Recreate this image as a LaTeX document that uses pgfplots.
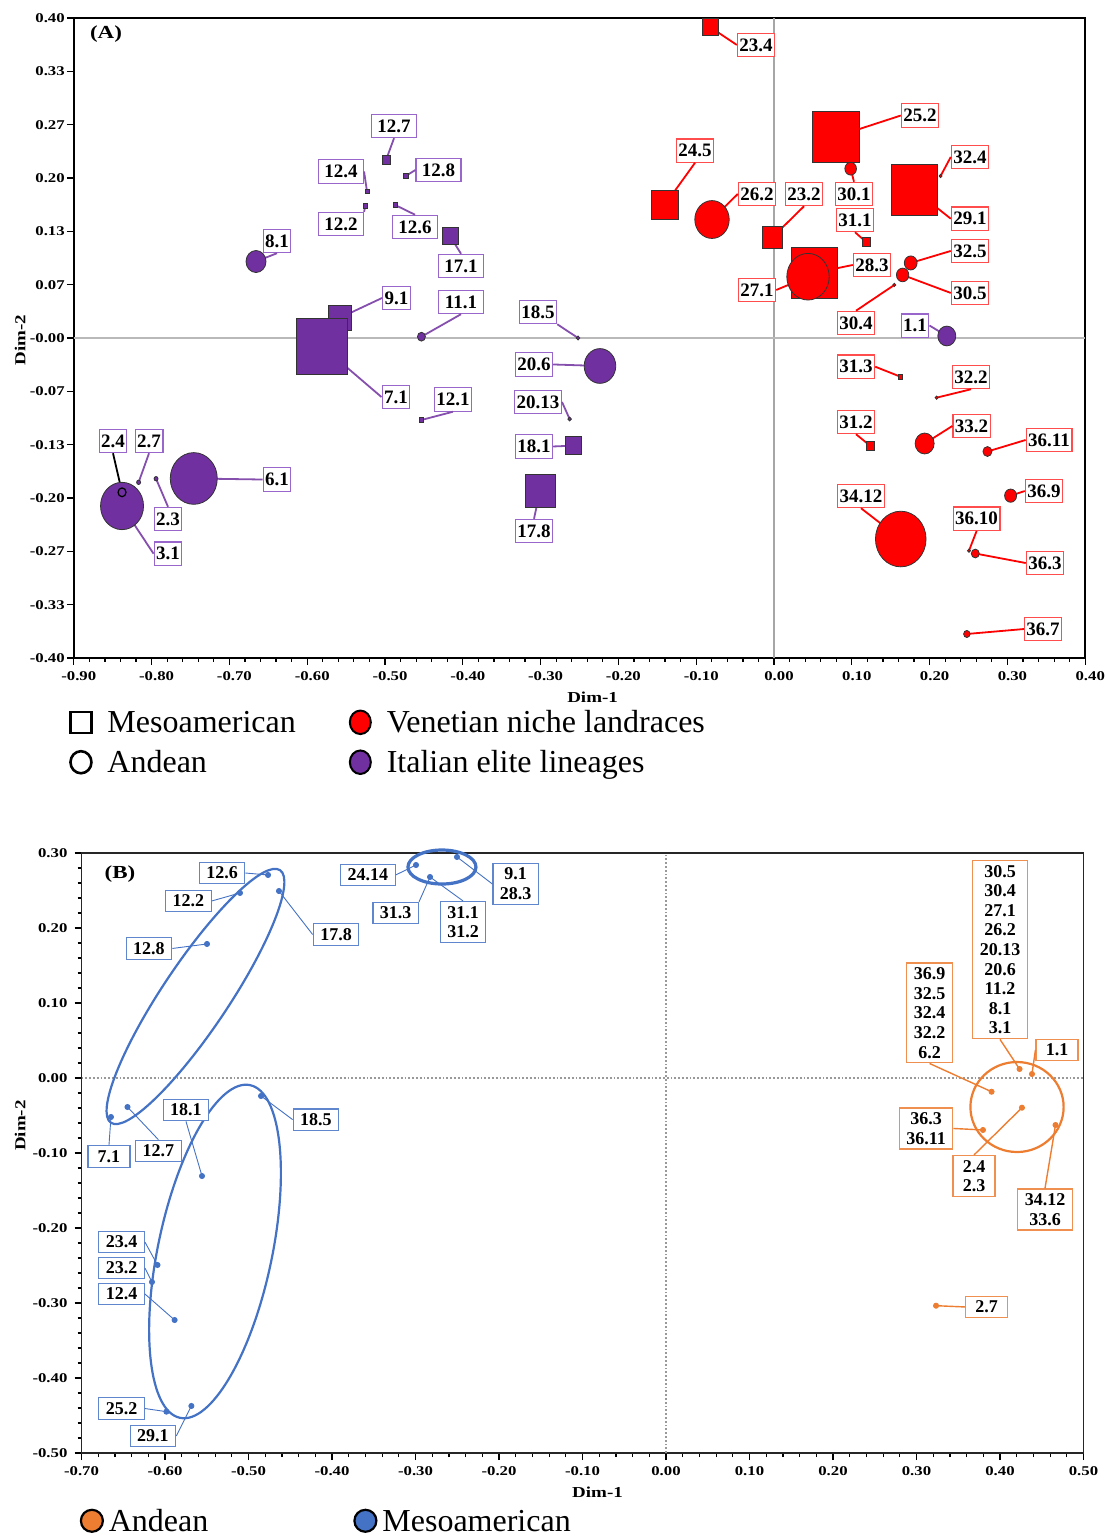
\documentclass[border=0pt]{standalone}
\usepackage{pgfplots}
\usepackage{pgfplotstable}
\pgfplotsset{compat=1.18}
\usepackage{fontspec}
\setmainfont{Liberation Serif}
\newfontfamily\stretchfamily{Liberation Serif}[FakeStretch=1.25]
\newcommand\tickfont{\stretchfamily\bfseries\fontsize{6.7}{8}\selectfont}
\newcommand\axfont{\stretchfamily\bfseries\fontsize{7.6}{9}\selectfont}
\newcommand\panfont{\stretchfamily\bfseries\fontsize{9.2}{11}\selectfont}

\definecolor{vred}{HTML}{FF0000}
\definecolor{ipurple}{HTML}{7030A0}
\definecolor{rbox}{HTML}{FF4D4D}
\definecolor{pbox}{HTML}{9966CC}
\definecolor{bblue}{HTML}{4472C4}
\definecolor{bor}{HTML}{ED7D31}

\tikzset{
 labA/.style={draw=#1, fill=white, line width=0.6pt, inner xsep=1pt, inner ysep=2.6pt, font=\fontsize{9.5}{11}\selectfont\bfseries, text=black},
 rl/.style={labA=rbox},
 pl/.style={labA=pbox},
 plw/.style={labA=pbox, minimum width=22.5pt},
 rline/.style={draw=vred, line width=0.9pt},
 pline/.style={draw=ipurple!85, line width=0.9pt},
 kline/.style={draw=black, line width=0.9pt},
 labB/.style={draw=#1, fill=white, line width=0.6pt, inner xsep=3.5pt, inner ysep=2.3pt, minimum width=21pt, align=center, font=\fontsize{9}{9.8}\selectfont\bfseries, text=black},
 bl/.style={labB=bblue!85},
 ol/.style={labB=bor!85},
 bline/.style={draw=bblue, line width=0.45pt},
 oline/.style={draw=bor, line width=0.7pt},
}
\pgfplotsset{
 bub/.style 2 args={scatter, only marks, forget plot, mark=#1,
   scatter/use mapped color={draw=black!80,fill=#2},
   visualization depends on={\thisrow{s} \as \msz},
   scatter/@pre marker code/.append style={/tikz/mark size=\msz pt},
   mark options={yscale=1.1, line width=0.4pt}},
}
\newcommand\LB[8]{\node[#1] (L) at (axis cs:#2,#3) {#4}; \draw[#5] (L.#6) -- (axis cs:#7,#8);}

\pgfplotstableread{
x y s
-0.0823 0.3888 4.0
-0.1401 0.1669 6.6
-0.0026 0.1253 5.0
0.0790 0.2515 11.75
0.1183 0.1200 2.0
0.1805 0.1850 11.6
0.0514 0.0813 11.5
0.1625 -0.0484 1.0
0.1239 -0.1350 2.0
}\redsq
\pgfplotstableread{
x y s
-0.0797 0.1481 8.6
0.0985 0.2116 2.9
0.2141 0.2025 0.75
0.0437 0.0766 10.6
0.1757 0.0938 3.2
0.1653 0.0788 3.1
0.1546 0.0663 0.75
0.2090 -0.0746 0.75
0.1936 -0.1319 4.75
0.2743 -0.1419 2.25
0.3041 -0.1971 3.0
0.1629 -0.2513 12.65
0.2506 -0.2659 0.75
0.2587 -0.2694 2.0
0.2478 -0.3700 1.6
}\redci
\pgfplotstableread{
x y s
-0.4987 0.2225 2.0
-0.4734 0.2025 1.25
-0.5231 0.1829 1.0
-0.5252 0.1650 1.0
-0.4871 0.1663 1.0
-0.4165 0.1275 4.0
-0.5585 0.0250 5.75
-0.5812 -0.0100 12.75
-0.4532 -0.1025 1.0
-0.2584 -0.1346 4.0
-0.3008 -0.1913 7.5
}\pusq
\pgfplotstableread{
x y s
-0.6658 0.0956 5.0
-0.4532 0.0016 2.0
-0.2519 0.0000 0.9
-0.2237 -0.0350 7.9
-0.2627 -0.1013 0.9
0.2221 0.0025 4.5
-0.7458 -0.1756 11.75
-0.8380 -0.2100 10.75
-0.8167 -0.1804 1.0
-0.7943 -0.1759 1.0
}\puci
\pgfplotstableread{
x y
-0.4766 0.2707
-0.5102 0.2467
-0.4635 0.2493
-0.5497 0.1787
-0.2994 0.2840
-0.2503 0.2947
-0.2826 0.2680
-0.4850 -0.0240
-0.6647 -0.0520
-0.6449 -0.0387
-0.5557 -0.1307
-0.6090 -0.2493
-0.6156 -0.2720
-0.5885 -0.3227
-0.5983 -0.4449
-0.5684 -0.4373
}\bpts
\pgfplotstableread{
x y
0.4234 0.0120
0.4383 0.0053
0.3899 -0.0183
0.4263 -0.0396
0.3796 -0.0693
0.4665 -0.0627
0.3234 -0.3036
}\opts

\begin{document}
\begin{tikzpicture}
% ---------------- Panel A ----------------
\begin{axis}[
 at={(36.9pt,439.5pt)}, anchor=south west, scale only axis,
 width=505.7pt, height=320pt,
 xmin=-0.9, xmax=0.4, ymin=-0.4, ymax=0.4,
 clip=false,
 axis line style={line width=0.8pt},
 tick align=outside, tick pos=left,
 major tick length=3.5pt, minor tick length=2pt,
 every tick/.style={black, line width=0.6pt},
 minor x tick num=4, minor y tick num=4,
 xtick={-0.9,-0.8,-0.7,-0.6,-0.5,-0.4,-0.3,-0.2,-0.1,0,0.1,0.2,0.3,0.4},
 xticklabels={-0.90,-0.80,-0.70,-0.60,-0.50,-0.40,-0.30,-0.20,-0.10,0.00,0.10,0.20,0.30,0.40},
 ytick={-0.4,-0.33333,-0.26667,-0.2,-0.13333,-0.06667,0,0.06667,0.13333,0.2,0.26667,0.33333,0.4},
 yticklabels={-0.40,-0.33,-0.27,-0.20,-0.13,-0.07,-0.00,0.07,0.13,0.20,0.27,0.33,0.40},
 tick label style={font=\tickfont},
 xticklabel style={xshift=2.5pt},
 yticklabel style={xshift=2.5pt},
 legend columns=2, legend cell align=left,
 legend image code/.code={\draw[#1] plot coordinates {(0pt,0pt)};},
 legend style={draw=none, fill=none, inner sep=0pt,
   at={(axis description cs:-0.0037,-0.0815)}, anchor=north west,
   font=\fontsize{16}{19}\selectfont, row sep=8.2pt,
   nodes={inner xsep=3pt, inner ysep=0pt, text height=10.6pt, text depth=0pt},
   /tikz/every odd column/.append style={column sep=5pt},
   /tikz/every even column/.append style={column sep=24pt}},
]
\draw[gray!70, line width=0.6pt] (axis cs:0,-0.4) -- (axis cs:0,0.4);
\draw[gray!55, line width=0.8pt] (axis cs:-0.9,0) -- (axis cs:0.4,0);
% red labels
\LB{rl}{-0.0231}{0.3663}{23.4}{rline}{west}{-0.0823}{0.3888}
\LB{rl}{0.1877}{0.2781}{25.2}{rline}{west}{0.0790}{0.2515}
\LB{rl}{-0.1015}{0.2343}{24.5}{rline}{south}{-0.1401}{0.1669}
\LB{rl}{0.2519}{0.2263}{32.4}{rline}{west}{0.2141}{0.2025}
\LB{rl}{-0.0219}{0.18}{26.2}{rline}{west}{-0.0797}{0.1481}
\LB{rl}{0.0386}{0.18}{23.2}{rline}{south}{-0.0026}{0.1253}
\LB{rl}{0.1028}{0.18}{30.1}{rline}{north}{0.0985}{0.2116}
\LB{rl}{0.1041}{0.1475}{31.1}{rline}{south}{0.1183}{0.12}
\LB{rl}{0.2519}{0.1491}{29.1}{rline}{west}{0.1805}{0.185}
\LB{rl}{0.2519}{0.1088}{32.5}{rline}{west}{0.1757}{0.0938}
\LB{rl}{0.126}{0.0913}{28.3}{rline}{west}{0.0514}{0.0813}
\LB{rl}{-0.0219}{0.06}{27.1}{rline}{east}{0.0437}{0.0766}
\LB{rl}{0.2519}{0.0563}{30.5}{rline}{west}{0.1653}{0.0788}
\LB{rl}{0.1054}{0.0188}{30.4}{rline}{north}{0.1546}{0.0663}
\LB{rl}{0.1054}{-0.0359}{31.3}{rline}{east}{0.1625}{-0.0484}
\LB{rl}{0.2532}{-0.0488}{32.2}{rline}{south}{0.2090}{-0.0746}
\LB{rl}{0.1054}{-0.105}{31.2}{rline}{south}{0.1239}{-0.135}
\LB{rl}{0.2539}{-0.11}{33.2}{rline}{west}{0.1936}{-0.1319}
\LB{rl}{0.3535}{-0.1275}{36.11}{rline}{west}{0.2743}{-0.1419}
\LB{rl}{0.347}{-0.1913}{36.9}{rline}{west}{0.3041}{-0.1971}
\LB{rl}{0.1118}{-0.1975}{34.12}{rline}{south}{0.1629}{-0.2513}
\LB{rl}{0.2604}{-0.2259}{36.10}{rline}{south}{0.2506}{-0.2659}
\LB{rl}{0.3483}{-0.2813}{36.3}{rline}{west}{0.2587}{-0.2694}
\LB{rl}{0.3458}{-0.3638}{36.7}{rline}{west}{0.2478}{-0.37}
% purple labels
\LB{plw}{-0.4884}{0.265}{12.7}{pline}{south}{-0.4987}{0.2225}
\LB{plw}{-0.5566}{0.2081}{12.4}{pline}{east}{-0.5231}{0.1829}
\LB{plw}{-0.4312}{0.21}{12.8}{pline}{west}{-0.4734}{0.2025}
\LB{plw}{-0.5566}{0.1425}{12.2}{pline}{north east}{-0.5252}{0.165}
\LB{plw}{-0.4614}{0.1388}{12.6}{pline}{north}{-0.4871}{0.1663}
\LB{pl}{-0.6388}{0.1213}{8.1}{pline}{south}{-0.6658}{0.0956}
\LB{plw}{-0.4023}{0.09}{17.1}{pline}{north}{-0.4165}{0.1275}
\LB{pl}{-0.4852}{0.05}{9.1}{pline}{west}{-0.5585}{0.025}
\LB{plw}{-0.4023}{0.045}{11.1}{pline}{south}{-0.4532}{0.0016}
\LB{pl}{-0.3033}{0.0325}{18.5}{pline}{south east}{-0.2519}{0.0}
\LB{pl}{-0.3085}{-0.0331}{20.6}{pline}{east}{-0.2237}{-0.035}
\LB{pl}{-0.4859}{-0.0738}{7.1}{pline}{west}{-0.5812}{-0.01}
\LB{pl}{-0.4126}{-0.0769}{12.1}{pline}{south}{-0.4532}{-0.1025}
\LB{pl}{-0.3033}{-0.08}{20.13}{pline}{east}{-0.2627}{-0.1013}
\LB{pl}{-0.3085}{-0.1356}{18.1}{pline}{east}{-0.2584}{-0.1346}
\LB{pl}{-0.3085}{-0.2413}{17.8}{pline}{north}{-0.3008}{-0.1913}
\LB{pl}{-0.8496}{-0.1288}{2.4}{kline}{south}{-0.838}{-0.1929}
\LB{pl}{-0.8033}{-0.1288}{2.7}{pline}{south}{-0.8167}{-0.1804}
\LB{pl}{-0.6388}{-0.1769}{6.1}{pline}{west}{-0.7458}{-0.1756}
\LB{pl}{-0.7789}{-0.2263}{2.3}{pline}{north}{-0.7943}{-0.1759}
\LB{pl}{-0.7789}{-0.2696}{3.1}{pline}{west}{-0.838}{-0.21}
\LB{pl}{0.1812}{0.0156}{1.1}{pline}{east}{0.2221}{0.0025}
% markers
\addplot[bub={square*}{vred}] table[x=x,y=y] {\redsq};
\addplot[bub={*}{vred}] table[x=x,y=y] {\redci};
\addplot[bub={square*}{ipurple}] table[x=x,y=y] {\pusq};
\addplot[bub={*}{ipurple}] table[x=x,y=y] {\puci};
\addplot[forget plot, only marks, mark=*, mark size=2pt, mark options={draw=black, fill=ipurple, line width=0.6pt, yscale=1.1}] coordinates {(-0.838,-0.1929)};
% legend
\addlegendimage{mark=square, mark size=5.25pt, mark options={draw=black, line width=1.3pt, solid}}
\addlegendentry{Mesoamerican}
\addlegendimage{mark=*, mark size=5.25pt, mark options={draw=black, fill=vred, line width=1pt, yscale=1.12, solid}}
\addlegendentry{Venetian niche landraces}
\addlegendimage{mark=o, mark size=5.25pt, mark options={draw=black, line width=1.3pt, yscale=1.05, solid}}
\addlegendentry{Andean}
\addlegendimage{mark=*, mark size=5.25pt, mark options={draw=black, fill=ipurple, line width=1pt, yscale=1.12, solid}}
\addlegendentry{Italian elite lineages}
\end{axis}

% ---------------- Panel B ----------------
\begin{axis}[
 at={(40.75pt,42pt)}, anchor=south west, scale only axis,
 width=501pt, height=300pt,
 xmin=-0.7, xmax=0.5, ymin=-0.5, ymax=0.3,
 clip=false,
 axis line style={line width=0.8pt, black!85},
 tick align=outside, tick pos=left,
 major tick length=3.5pt, minor tick length=2pt,
 every tick/.style={black, line width=0.6pt},
 minor x tick num=4, minor y tick num=4,
 xtick={-0.7,-0.6,-0.5,-0.4,-0.3,-0.2,-0.1,0,0.1,0.2,0.3,0.4,0.5},
 xticklabels={-0.70,-0.60,-0.50,-0.40,-0.30,-0.20,-0.10,0.00,0.10,0.20,0.30,0.40,0.50},
 ytick={-0.5,-0.4,-0.3,-0.2,-0.1,0,0.1,0.2,0.3},
 yticklabels={-0.50,-0.40,-0.30,-0.20,-0.10,0.00,0.10,0.20,0.30},
 tick label style={font=\tickfont},
 legend columns=2, legend cell align=left,
 legend image code/.code={\draw[#1] plot coordinates {(0pt,0pt)};},
 legend style={draw=none, fill=none, inner sep=0pt,
   at={(axis description cs:-0.001,-0.094)}, anchor=north west,
   font=\fontsize{16}{19}\selectfont,
   nodes={inner xsep=3pt, inner ysep=0pt, text height=10.6pt, text depth=0pt},
   /tikz/every odd column/.append style={column sep=0pt},
   /tikz/every even column/.append style={column sep=70pt}},
]
\draw[gray!80, densely dotted, line width=0.9pt] (axis cs:-0.7,0) -- (axis cs:0.5,0);
\draw[gray!80, densely dotted, line width=0.9pt] (axis cs:0,-0.5) -- (axis cs:0,0.3);
\draw[bblue, line width=1.1pt, rotate around={56.2:(axis cs:-0.5635,0.1087)}] (axis cs:-0.5635,0.1087) ellipse [x radius=76pt, y radius=16.5pt];
\draw[bblue, line width=1.1pt, rotate around={78.1:(axis cs:-0.5401,-0.2313)}] (axis cs:-0.5401,-0.2313) ellipse [x radius=85pt, y radius=28.5pt];
\draw[bblue, line width=1.6pt] (axis cs:-0.2683,0.2813) ellipse [x radius=17pt, y radius=8.5pt];
\draw[bor, line width=1.1pt] (axis cs:0.4204,-0.0387) ellipse [x radius=23.3pt, y radius=22.5pt];
% blue labels
\LB{bl}{-0.5317}{0.2733}{12.6}{bline}{east}{-0.4766}{0.2707}
\LB{bl}{-0.572}{0.236}{12.2}{bline}{east}{-0.5102}{0.2467}
\LB{bl}{-0.6192}{0.1727}{12.8}{bline}{east}{-0.5497}{0.1787}
\LB{bl}{-0.3952}{0.1913}{17.8}{bline}{west}{-0.4635}{0.2493}
\LB{bl}{-0.357}{0.2707}{24.14}{bline}{east}{-0.2994}{0.284}
\LB{bl}{-0.3237}{0.22}{31.3}{bline}{north east}{-0.2826}{0.268}
\LB{bl}{-0.2431}{0.208}{31.1\\31.2}{bline}{north}{-0.2826}{0.268}
\LB{bl}{-0.18}{0.2587}{9.1\\28.3}{bline}{west}{-0.2503}{0.2947}
\LB{bl}{-0.5749}{-0.0427}{18.1}{bline}{south}{-0.5557}{-0.1307}
\LB{bl}{-0.4192}{-0.0555}{18.5}{bline}{west}{-0.485}{-0.024}
\LB{bl}{-0.6671}{-0.1047}{7.1}{bline}{north}{-0.6647}{-0.052}
\LB{bl}{-0.6079}{-0.0973}{12.7}{bline}{north}{-0.6449}{-0.0387}
\LB{bl}{-0.652}{-0.2187}{23.4}{bline}{east}{-0.609}{-0.2493}
\LB{bl}{-0.652}{-0.2533}{23.2}{bline}{east}{-0.6156}{-0.272}
\LB{bl}{-0.652}{-0.288}{12.4}{bline}{east}{-0.5885}{-0.3227}
\LB{bl}{-0.652}{-0.4407}{25.2}{bline}{east}{-0.5983}{-0.4449}
\LB{bl}{-0.6144}{-0.4773}{29.1}{bline}{east}{-0.5684}{-0.4373}
% orange labels
\LB{ol}{0.4}{0.1711}{30.5\\30.4\\27.1\\26.2\\20.13\\20.6\\11.2\\8.1\\3.1}{oline}{south}{0.4234}{0.012}
\LB{ol}{0.3156}{0.0867}{36.9\\32.5\\32.4\\32.2\\6.2}{oline}{south}{0.3899}{-0.0183}
\LB{ol}{0.4683}{0.0373}{1.1}{oline}{west}{0.4383}{0.0053}
\LB{ol}{0.3114}{-0.0673}{36.3\\36.11}{oline}{east}{0.3796}{-0.0693}
\LB{ol}{0.3689}{-0.1307}{2.4\\2.3}{oline}{north}{0.4263}{-0.0396}
\LB{ol}{0.4539}{-0.1753}{34.12\\33.6}{oline}{north}{0.4665}{-0.0627}
\LB{ol}{0.384}{-0.3053}{2.7}{oline}{west}{0.3234}{-0.3036}
\addplot[forget plot, only marks, mark=*, mark size=1.3pt, color=bblue] table[x=x,y=y] {\bpts};
\addplot[forget plot, only marks, mark=*, mark size=1.3pt, color=bor] table[x=x,y=y] {\opts};
\addlegendimage{mark=*, mark size=5.5pt, mark options={draw=black, fill=bor, line width=1.1pt, solid}}
\addlegendentry{Andean}
\addlegendimage{mark=*, mark size=5.5pt, mark options={draw=black, fill=bblue, line width=1.1pt, solid}}
\addlegendentry{Mesoamerican}
\end{axis}

\node[font=\axfont] at (296.3pt,420pt) {Dim-1};
\node[font=\axfont, rotate=90] at (10pt,598.5pt) {Dim-2};
\node[font=\axfont] at (298.75pt,22.5pt) {Dim-1};
\node[font=\axfont, rotate=90] at (10pt,205.7pt) {Dim-2};
\node[font=\panfont] at (53pt,751.35pt) {(A)};
\node[font=\panfont] at (60pt,331.5pt) {(B)};
\pgfresetboundingbox
\path[use as bounding box] (0,0) rectangle (553.5pt,768.5pt);
\end{tikzpicture}
\end{document}
